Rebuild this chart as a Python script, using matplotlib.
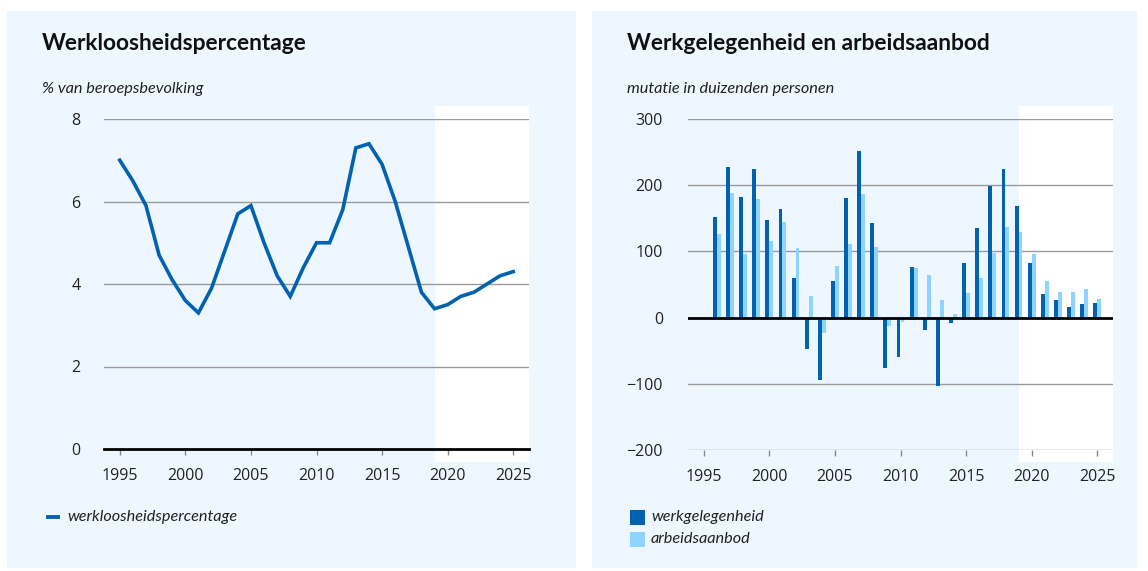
import matplotlib
matplotlib.use("Agg")
import matplotlib.pyplot as plt
from matplotlib.patches import Rectangle

plt.rcParams['font.family'] = ['Lato', 'DejaVu Sans']

# kleuren
BG = '#EEF7FF'
DONKER = '#0162AF'
LICHT = '#8ED4FF'
GRID = '#9a9a9a'

# werkloosheid (% van beroepsbevolking)
jaren = list(range(1995, 2026))
werkloosheid = [7.0, 6.5, 5.9, 4.7, 4.1, 3.6, 3.3, 3.9, 4.8, 5.7, 5.9, 5.0, 4.2, 3.7, 4.4,
                5.0, 5.0, 5.8, 7.3, 7.4, 6.9, 6.0, 4.9, 3.8, 3.4, 3.5, 3.7, 3.8, 4.0, 4.2, 4.3]

# werkgelegenheid en arbeidsaanbod (mutatie in duizenden personen)
bar_jaren = list(range(1996, 2026))
werkgelegenheid = [152, 228, 182, 225, 148, 164, 60, -47, -95, 55, 181, 251, 143, -76, -60,
                   76, -18, -103, -8, 83, 135, 199, 225, 168, 82, 35, 27, 16, 21, 22]
arbeidsaanbod = [126, 188, 96, 179, 116, 144, 105, 33, -24, 78, 111, 186, 106, -13, -6,
                 75, 64, 27, 5, 37, 60, 98, 137, 130, 96, 55, 38, 39, 43, 28]

# as-labels
x_ticks = [1995, 2000, 2005, 2010, 2015, 2020, 2025]
x_labels = ['1995', '2000', '2005', '2010', '2015', '2020', '2025']
y1_ticks = [0, 2, 4, 6, 8]
y1_labels = ['0', '2', '4', '6', '8']
y2_ticks = [-200, -100, 0, 100, 200, 300]
y2_labels = ['\u2212200', '\u2212100', '0', '100', '200', '300']

W, H = 1148, 571
fig = plt.figure(figsize=(W / 100, H / 100), dpi=100)
fig.patch.set_facecolor('white')


def px(x0, y0, x1, y1):
    # pixelvak -> figuurcoordinaten
    return [x0 / W, 1 - y1 / H, (x1 - x0) / W, (y1 - y0) / H]


# achtergrondpanelen
for x0, x1 in [(7, 576), (592, 1137)]:
    fig.patches.append(Rectangle((x0 / W, 1 - 568 / H), (x1 - x0) / W, (568 - 11) / H,
                                 transform=fig.transFigure, facecolor=BG, edgecolor='none', zorder=-5))

XMIN, XMAX = 1993.8, 2026.2
TXT = 11.7
TICKFONT = ['Open Sans', 'DejaVu Sans']


def opmaak(ax, yticks, ylabels, ylim, ypad):
    ax.set_zorder(2)
    ax.set_facecolor('none')
    for s in ax.spines.values():
        s.set_visible(False)
    ax.set_xlim(XMIN, XMAX)
    ax.set_ylim(*ylim)
    ax.set_xticks(x_ticks, x_labels, fontfamily=TICKFONT)
    ax.set_yticks(yticks, ylabels, fontfamily=TICKFONT)
    ax.tick_params(axis='x', length=4, width=1, color='#888888', pad=9.5, labelsize=11.5, labelcolor='#222222')
    ax.tick_params(axis='y', length=0, pad=ypad, labelsize=11.5, labelcolor='#222222')


# --- links: werkloosheidspercentage ---
ax1 = fig.add_axes(px(104, 119, 529, 449))
opmaak(ax1, y1_ticks, y1_labels, (0, 8), 17)
ax1.add_patch(Rectangle((2019, -0.31), XMAX - 2019, 8.63, facecolor='white', edgecolor='none',
                        clip_on=False, zorder=0))
for y in y1_ticks[1:]:
    ax1.axhline(y, color=GRID, lw=1, zorder=1)
ax1.axhline(0, color='black', lw=2, zorder=3, clip_on=False)
ax1.plot(jaren, werkloosheid, color=DONKER, lw=2.6, zorder=4, solid_joinstyle='miter')

fig.text(42 / W, 1 - 44 / H, 'Werkloosheidspercentage', fontsize=16.4, fontweight='bold',
         va='center', ha='left', color='#111111')
fig.text(42 / W, 1 - 89 / H, '% van beroepsbevolking', fontsize=TXT, style='italic',
         va='center', ha='left', color='#222222')
fig.lines.append(plt.Line2D([48 / W, 58 / W], [1 - 517 / H] * 2, transform=fig.transFigure,
                            color=DONKER, lw=2.8))
fig.text(67 / W, 1 - 517 / H, 'werkloosheidspercentage', fontsize=TXT, style='italic',
         va='center', ha='left', color='#222222')

# --- rechts: werkgelegenheid en arbeidsaanbod ---
ax2 = fig.add_axes(px(688, 119, 1113, 450))
opmaak(ax2, y2_ticks, y2_labels, (-200, 300), 18)
ax2.add_patch(Rectangle((2019, -218), XMAX - 2019, 538, facecolor='white', edgecolor='none',
                        clip_on=False, zorder=0))
for y in [-200, -100, 100, 200, 300]:
    ax2.axhline(y, color=GRID, lw=1, zorder=1)
bw = 0.3
ax2.bar([j - bw / 2 for j in bar_jaren], werkgelegenheid, width=bw, color=DONKER, zorder=2)
ax2.bar([j + bw / 2 for j in bar_jaren], arbeidsaanbod, width=bw, color=LICHT, zorder=2)
ax2.axhline(0, color='black', lw=2, zorder=3)

fig.text(627 / W, 1 - 44 / H, 'Werkgelegenheid en arbeidsaanbod', fontsize=16.4, fontweight='bold',
         va='center', ha='left', color='#111111')
fig.text(627 / W, 1 - 89 / H, 'mutatie in duizenden personen', fontsize=TXT, style='italic',
         va='center', ha='left', color='#222222')
for yy, kleur, naam in [(517, DONKER, 'werkgelegenheid'), (539, LICHT, 'arbeidsaanbod')]:
    fig.patches.append(Rectangle((630 / W, 1 - (yy + 7.5) / H), 15 / W, 15 / H,
                                 transform=fig.transFigure, facecolor=kleur, edgecolor='none', zorder=3))
    fig.text(651 / W, 1 - yy / H, naam, fontsize=TXT, style='italic', va='center', ha='left',
             color='#222222')

fig.savefig('out.png', dpi=100)
